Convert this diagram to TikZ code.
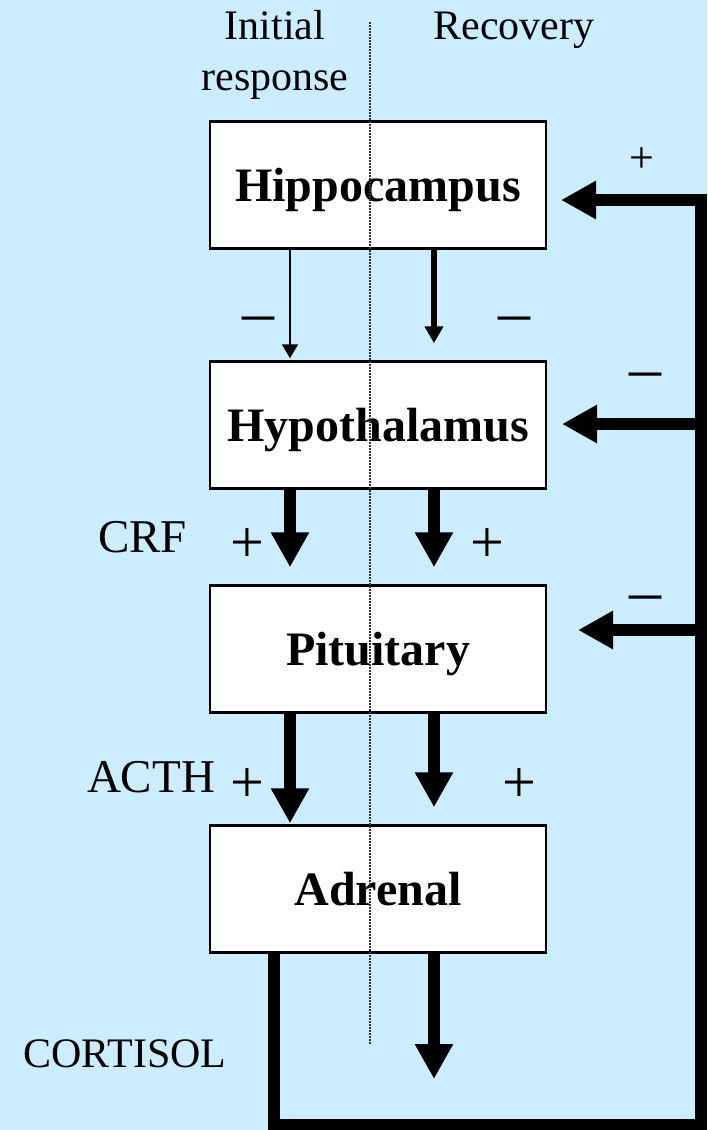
\documentclass[tikz,border=0pt]{standalone}
\usepackage{fontspec}
\setmainfont{Liberation Serif}
\usetikzlibrary{arrows.meta}
\definecolor{bgblue}{RGB}{204,236,255}
\tikzset{
  organ/.style={draw=black, fill=white, line width=2.5pt, minimum width=336pt, minimum height=127pt, inner sep=0pt,
    font=\fontsize{48}{54}\selectfont\bfseries, text height=32pt, text depth=0pt},
  lbl/.style={inner sep=0pt, anchor=base, font=\fontsize{42}{48}\selectfont},
  biglbl/.style={inner sep=0pt, anchor=base, font=\fontsize{47}{52}\selectfont},
  plus/.style={inner sep=0pt, anchor=base, font=\fontsize{60}{66}\selectfont},
  smallplus/.style={inner sep=0pt, anchor=base, font=\fontsize{44}{50}\selectfont},
  minus/.style={inner sep=0pt, anchor=base, font=\fontsize{64}{70}\selectfont},
  thinarrow/.style={line width=2pt, -{Triangle[width=16pt,length=14pt]}},
  medarrow/.style={line width=6pt, -{Triangle[width=18pt,length=17pt]}},
  thickarrow/.style={line width=12pt, -{Triangle[width=36pt,length=35pt]}},
  thickline/.style={line width=12pt, line join=miter},
  divider/.style={line width=1.5pt, black!80, dash pattern=on 1.5pt off 1.5pt}
}
\begin{document}
\begin{tikzpicture}[x=1pt,y=-1pt]
\fill[bgblue] (0,0) rectangle (707,1130);
\useasboundingbox (0,0) rectangle (707,1130);

% column coordinates
\coordinate (L) at (290,0);
\coordinate (R) at (434,0);
\coordinate (F) at (274,0);
\coordinate (E) at (701,0);

% boxes
\node[organ] (hip) at (378,185) {Hippocampus};
\node[organ] (hyp) at (378,425) {Hypothalamus};
\node[organ] (pit) at (378,649) {Pituitary};
\node[organ] (adr) at (378,889) {Adrenal};

% divider
\coordinate (dtop) at (370,22);
\coordinate (dbot) at (370,1045);
\draw[divider] (dtop) -- (dbot);

% headings
\node[lbl] (h1) at (275,39) {Initial};
\node[lbl] (h2) at (275,90) {response};
\node[lbl] (h3) at (514,39) {Recovery};

% hippocampus -> hypothalamus
\draw[thinarrow] (hip.south -| L) -- ([yshift=2pt]hyp.north -| L);
\draw[medarrow] (hip.south -| R) -- ([yshift=17pt]hyp.north -| R);
\node[minus] (m1) at (258,333) {–};
\node[minus] (m2) at (514,333) {–};

% hypothalamus -> pituitary
\draw[thickarrow] (hyp.south -| L) -- ([yshift=17pt]pit.north -| L);
\draw[thickarrow] (hyp.south -| R) -- ([yshift=17pt]pit.north -| R);
\node[biglbl] (crf) at (142.5,552) {CRF};
\node[plus] (p1) at (247,562) {+};
\node[plus] (p2) at (487,562) {+};

% pituitary -> adrenal
\draw[thickarrow] (pit.south -| L) -- ([yshift=1pt]adr.north -| L);
\draw[thickarrow] (pit.south -| R) -- ([yshift=17pt]adr.north -| R);
\node[biglbl] (acth) at (151,792) {ACTH};
\node[plus] (p3) at (247,802) {+};
\node[plus] (p4) at (519,802) {+};

% adrenal output
\coordinate (outend) at (434,1079);
\draw[thickarrow] (adr.south -| R) -- (outend);
\node[lbl] (cort) at (125,1067) {CORTISOL};

% feedback loop
\coordinate (c1) at (274,1125);
\coordinate (c2) at (701,1125);
\coordinate (c3) at (701,200);
\coordinate (t1) at (561,200);
\coordinate (b2) at (701,424);
\coordinate (t2) at (562,424);
\coordinate (b3) at (701,630);
\coordinate (t3) at (578,630);
\draw[thickline] (adr.south -| F) -- (c1) -- (c2) -- (c3) -- ([xshift=-6pt]c3);
\draw[thickarrow] (c3) -- (t1);
\draw[thickarrow] (b2) -- (t2);
\draw[thickarrow] (b3) -- (t3);
\node[smallplus] (p5) at (642,172) {+};
\node[minus] (m3) at (645,389) {–};
\node[minus] (m4) at (645,612) {–};
\end{tikzpicture}
\end{document}
